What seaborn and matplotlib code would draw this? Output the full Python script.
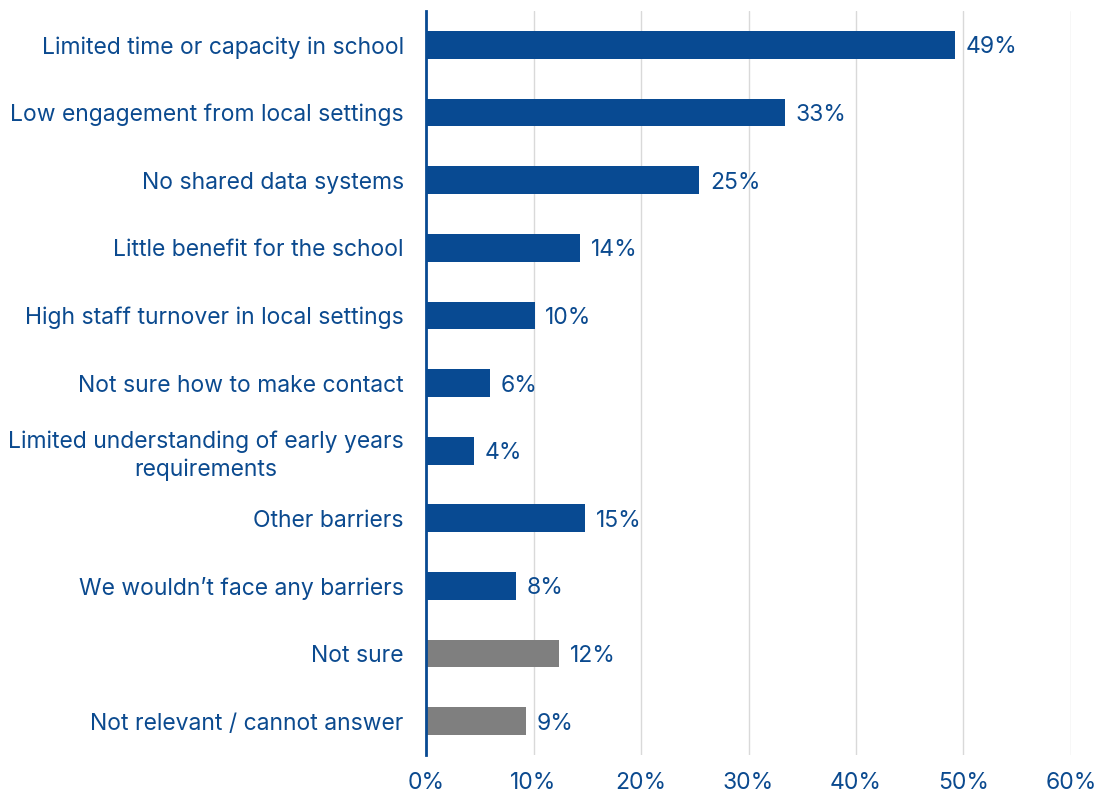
import matplotlib
matplotlib.use("Agg")
import matplotlib.pyplot as plt
import seaborn as sns
import pandas as pd

categories = [
    "Limited time or capacity in school",
    "Low engagement from local settings",
    "No shared data systems",
    "Little benefit for the school",
    "High staff turnover in local settings",
    "Not sure how to make contact",
    "Limited understanding of early years\nrequirements",
    "Other barriers",
    "We wouldn\u2019t face any barriers",
    "Not sure",
    "Not relevant / cannot answer",
]
values = [49.2, 33.4, 25.4, 14.3, 10.1, 5.95, 4.45, 14.8, 8.4, 12.4, 9.3]
bar_colors = ["#084A92"] * 9 + ["#7F7F7F"] * 2
xticks = [0, 10, 20, 30, 40, 50, 60]

TEXT = "#0B4A8F"
FS = 16.5

sns.set_theme(style="white")
plt.rcParams["font.family"] = ["Inter", "DejaVu Sans"]

df = pd.DataFrame({"category": categories, "value": values})

fig = plt.figure(figsize=(10.98, 7.96), dpi=100)
ax = fig.add_axes([0.388, 0.0515, 0.5874, 0.9345])

sns.barplot(data=df, x="value", y="category", hue="category",
            palette=bar_colors, legend=False, width=0.41, ax=ax,
            saturation=1, edgecolor="none")

ax.set_xlim(0, 60)
ax.set_ylim(len(categories) - 0.5, -0.5)
ax.set_xticks(xticks)
ax.set_xticklabels([f"{t}%" for t in xticks])
ax.xaxis.grid(True, color="#D9D9D9", linewidth=1)
ax.set_axisbelow(True)
ax.set_xlabel("")
ax.set_ylabel("")

for s in ["top", "right", "bottom"]:
    ax.spines[s].set_visible(False)
ax.spines["left"].set_color("#084A92")
ax.spines["left"].set_linewidth(2)

ax.tick_params(axis="both", length=0, colors=TEXT, labelsize=FS)
ax.tick_params(axis="y", pad=16)
ax.tick_params(axis="x", pad=12)
for lbl in ax.get_yticklabels():
    lbl.set_multialignment("center")
    lbl.set_linespacing(1.3)

for i, v in enumerate(values):
    ax.text(v + 1.0, i, f"{round(v)}%", va="center_baseline", ha="left",
            color=TEXT, fontsize=FS)

fig.savefig("out.png", dpi=100)
